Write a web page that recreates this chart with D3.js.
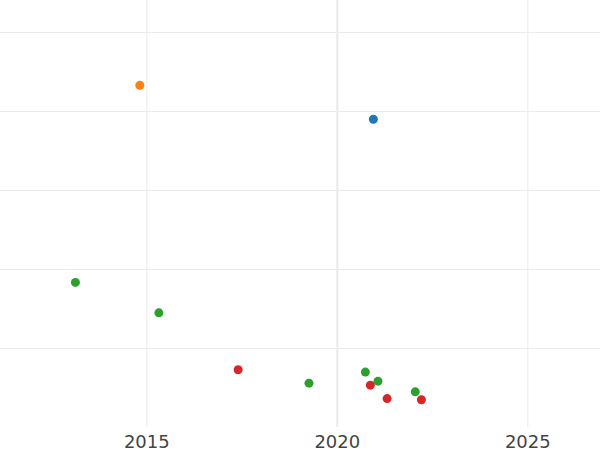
<!DOCTYPE html>
<html>
<head>
<meta charset="utf-8">
<script src="https://cdn.jsdelivr.net/npm/d3@7"></script>
<style>
  body { margin: 0; background: #fff; }
  svg { display: block; }
</style>
</head>
<body>
<div class="container"></div>
<script>
// ----- DATA -----
const years  = [2014.83, 2020.96, 2013.14, 2015.33, 2017.41, 2019.27, 2020.75, 2021.08, 2020.88, 2021.32, 2022.06, 2022.22];
const values = [86.5, 77.9, 36.6, 28.9, 14.5, 11.1, 13.9, 11.6, 10.6, 7.2, 8.9, 6.9];
const groups = ["orange", "blue", "green", "green", "red", "green", "green", "green", "red", "red", "green", "red"];
const xTicks = [2015, 2020, 2025];
const yTicks = [20, 40, 60, 80, 100];

const w = 600;
const h = 450;
const plotBottom = 427;

const colors = { blue: "#1f77b4", orange: "#ff7f0e", green: "#2ca02c", red: "#d62728" };

// ----- SCALES -----
const xScale = d3.scaleLinear()
  .domain([2015, 2025])
  .range([146.3, 527.3]);

const yScale = d3.scaleLinear()
  .domain([0, 100])
  .range([plotBottom, 32]);

// ----- SVG -----
const svg = d3.select(".container")
  .append("svg")
  .attr("width", w)
  .attr("height", h);

// horizontal grid
svg.append("g")
  .attr("class", "y-grid")
  .call(d3.axisLeft(yScale).tickValues(yTicks).tickSize(-w).tickFormat(""))
  .call(g => g.select(".domain").remove())
  .call(g => g.selectAll("line").attr("stroke", "#ebebeb").attr("stroke-width", 1));

// vertical grid + tick labels
const xAxis = svg.append("g")
  .attr("transform", "translate(0," + plotBottom + ")")
  .call(d3.axisBottom(xScale).tickValues(xTicks).tickSize(0).tickPadding(8).tickFormat(d3.format("d")));
xAxis.select(".domain").remove();
xAxis.selectAll("text")
  .attr("fill", "#444")
  .style("font-family", "DejaVu Sans, sans-serif")
  .style("font-size", "18px");
xAxis.selectAll(".tick")
  .append("line")
  .attr("y1", 0)
  .attr("y2", -plotBottom)
  .attr("stroke", "#ebebeb")
  .attr("stroke-width", d => d === 2020 ? 2 : 1);

// ----- POINTS -----
svg.append("g")
  .selectAll("circle")
  .data(years)
  .enter()
  .append("circle")
  .attr("cx", (d, i) => xScale(d))
  .attr("cy", (d, i) => yScale(values[i]))
  .attr("r", 4.5)
  .attr("fill", (d, i) => colors[groups[i]]);
</script>
</body>
</html>
